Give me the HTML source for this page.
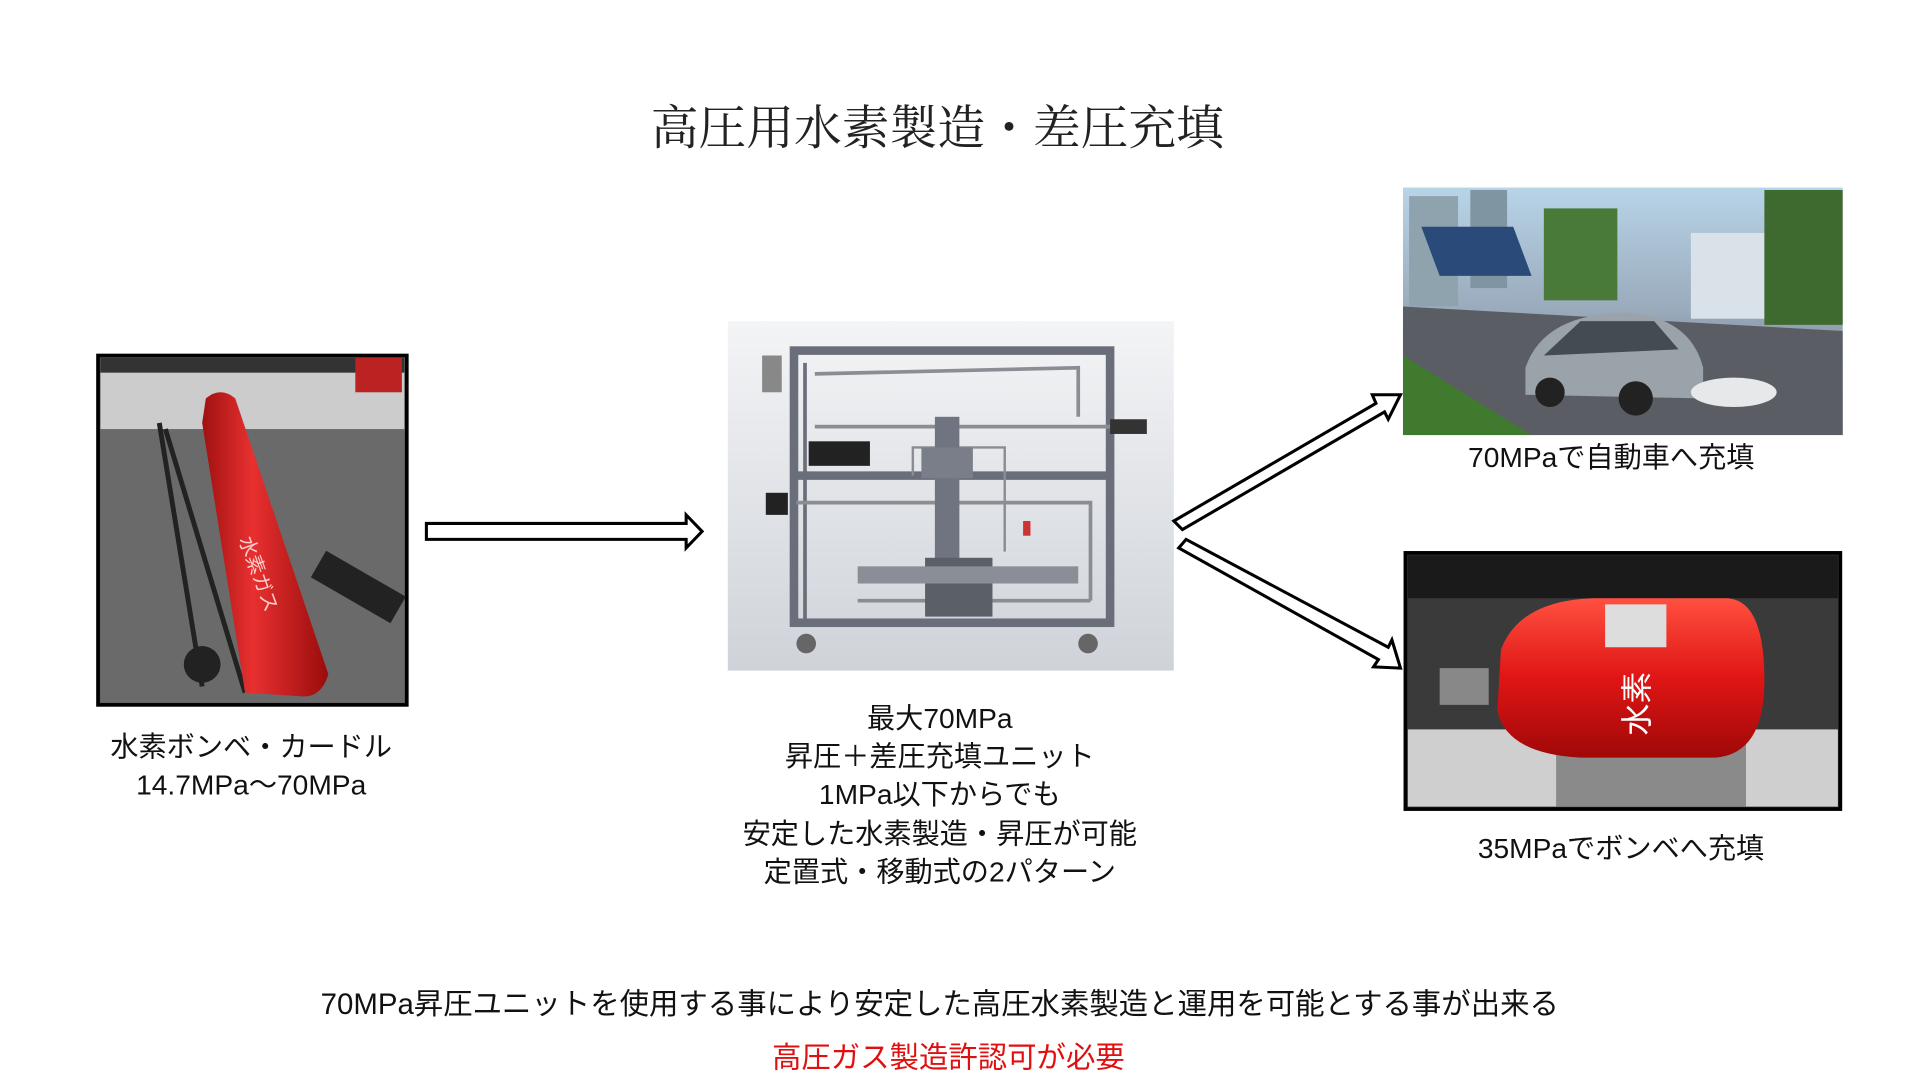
<!DOCTYPE html>
<html><head><meta charset="utf-8"><style>html,body{margin:0;padding:0;background:#fff;overflow:hidden}svg{display:block}</style></head>
<body>
<svg width="1920" height="1080" viewBox="0 0 1567 881" preserveAspectRatio="none" xmlns="http://www.w3.org/2000/svg">
<defs>
<linearGradient id="gbg" x1="0" y1="0" x2="0" y2="1"><stop offset="0" stop-color="#f3f4f6"/><stop offset="1" stop-color="#cfd3d9"/></linearGradient>
<linearGradient id="cyl" x1="0" y1="0" x2="1" y2="0"><stop offset="0" stop-color="#a01010"/><stop offset=".4" stop-color="#e83030"/><stop offset="1" stop-color="#9a0c0c"/></linearGradient>
<linearGradient id="tank" x1="0" y1="0" x2="0" y2="1"><stop offset="0" stop-color="#ff5040"/><stop offset=".5" stop-color="#e01515"/><stop offset="1" stop-color="#a00808"/></linearGradient>
<linearGradient id="sky" x1="0" y1="0" x2="0" y2="1"><stop offset="0" stop-color="#b8d4e8"/><stop offset=".5" stop-color="#9ab"/><stop offset="1" stop-color="#667"/></linearGradient>
<clipPath id="c1"><rect x="1145" y="153" width="359" height="202"/></clipPath>
</defs>
<rect width="1567" height="881" fill="#fff"/>
<text x="765" y="118" text-anchor="middle" font-family="'Liberation Serif','Noto Serif CJK SC',serif" font-size="39" fill="#222">高圧用水素製造・差圧充填</text>

<!-- left photo -->
<rect x="80" y="290" width="252" height="285" fill="#5c5c5c" stroke="#000" stroke-width="3"/>
<rect x="82" y="292" width="248" height="60" fill="#ccc"/>
<rect x="82" y="292" width="248" height="12" fill="#333"/>
<rect x="290" y="292" width="38" height="28" fill="#b22"/>
<rect x="82" y="350" width="248" height="223" fill="#6a6a6a"/>
<rect x="255" y="465" width="75" height="25" fill="#222" transform="rotate(30 290 478)"/>
<path d="M130 345 L165 560 M135 350 L200 565" stroke="#222" stroke-width="4" fill="none"/>
<circle cx="165" cy="542" r="15" fill="#222"/>
<path d="M168 325 Q180 315 192 325 L268 550 Q262 570 245 568 L200 565 L165 345 Z" fill="url(#cyl)"/>
<text x="195" y="440" font-family="'Noto Sans CJK JP',sans-serif" font-size="16" fill="#fcc" transform="rotate(70 195 440)">水素ガス</text>

<!-- left arrow -->
<path d="M348 427 L560 427 L560 420 L573 433.5 L560 447 L560 440 L348 440 Z" fill="#fff" stroke="#000" stroke-width="2.5"/>

<!-- center image -->
<rect x="594" y="262" width="364" height="285" fill="url(#gbg)"/>
<g fill="none" stroke="#6a6e7a">
<rect x="648" y="286" width="258" height="222" stroke-width="7"/>
<line x1="648" y1="388" x2="906" y2="388" stroke-width="7"/>
<line x1="657" y1="296" x2="657" y2="510" stroke-width="3"/>
<path d="M665 305 L880 300 L880 340 M665 348 L930 348 M650 410 L890 410 L890 490 M700 490 L890 490" stroke="#8a8e94" stroke-width="3"/>
<path d="M745 388 L745 365 L820 365 L820 450" stroke="#8a8e94" stroke-width="2"/>
</g>
<rect x="763" y="340" width="20" height="120" fill="#707480"/>
<rect x="752" y="365" width="42" height="25" fill="#7a7e88"/>
<rect x="755" y="455" width="55" height="48" fill="#5b5f68"/>
<rect x="700" y="462" width="180" height="14" fill="#8a8e96"/>
<rect x="660" y="360" width="50" height="20" fill="#222"/>
<rect x="625" y="402" width="18" height="18" fill="#222"/>
<rect x="622" y="290" width="16" height="30" fill="#888"/>
<rect x="906" y="342" width="30" height="12" fill="#333"/>
<rect x="835" y="425" width="6" height="12" fill="#c33"/>
<circle cx="658" cy="525" r="8" fill="#666"/><circle cx="888" cy="525" r="8" fill="#666"/>

<!-- diagonal arrows -->
<path d="M958 425 L1123 329 L1120 322 L1143 322 L1133 342 L1130 336 L965 432 Z" fill="#fff" stroke="#000" stroke-width="2.5"/>
<path d="M962 447 L968 440 L1133 528 L1136 522 L1143 545 L1121 544 L1125 538 Z" fill="#fff" stroke="#000" stroke-width="2.5"/>

<!-- top right photo -->
<g clip-path="url(#c1)">
<rect x="1145" y="153" width="359" height="202" fill="url(#sky)"/>
<rect x="1150" y="160" width="40" height="90" fill="#8fa3ae"/>
<rect x="1200" y="155" width="30" height="80" fill="#7f95a2"/>
<path d="M1160 185 L1235 185 L1250 225 L1175 225 Z" fill="#2a4a7a"/>
<rect x="1260" y="170" width="60" height="75" fill="#4a7a3a"/>
<rect x="1380" y="190" width="60" height="70" fill="#d8e2e8"/>
<rect x="1440" y="155" width="64" height="110" fill="#3e6a30"/>
<path d="M1145 250 L1504 270 L1504 355 L1145 355 Z" fill="#5a5e64"/>
<path d="M1145 290 L1250 355 L1145 355 Z" fill="#3f7a2f"/>
<path d="M1245 300 Q1260 255 1330 255 Q1380 260 1390 300 L1390 325 L1245 322 Z" fill="#9aa3aa"/>
<path d="M1260 290 L1290 262 L1350 262 L1370 285 Z" fill="#444b52"/>
<ellipse cx="1415" cy="320" rx="35" ry="12" fill="#e6e8ea"/>
<circle cx="1265" cy="320" r="12" fill="#222"/><circle cx="1335" cy="325" r="14" fill="#222"/>
</g>

<!-- bottom right photo -->
<rect x="1147" y="451" width="355" height="209" fill="#3a3a3a" stroke="#000" stroke-width="3"/>
<rect x="1149" y="453" width="351" height="35" fill="#1a1a1a"/>
<rect x="1149" y="595" width="351" height="63" fill="#cfcfcf"/>
<rect x="1270" y="600" width="155" height="58" fill="#8a8a8a"/>
<path d="M1225 530 Q1240 490 1300 488 L1410 488 Q1440 490 1440 555 Q1440 615 1400 618 L1290 618 Q1230 615 1222 580 Z" fill="url(#tank)"/>
<rect x="1175" y="545" width="40" height="30" fill="#888"/>
<rect x="1310" y="493" width="50" height="35" fill="#ddd"/>
<text x="1310" y="585" font-family="'Noto Sans CJK JP',sans-serif" font-size="26" fill="#fff" transform="rotate(-90 1335 575)">水素</text>

<g font-family="'Liberation Sans','Noto Sans CJK JP',sans-serif" font-size="23" fill="#111" text-anchor="middle">
<text x="1315" y="381">70MPaで自動車へ充填</text>
<text x="1323" y="700">35MPaでボンベへ充填</text>
<text x="205" y="617">水素ボンベ・カードル</text>
<text x="205" y="648">14.7MPa～70MPa</text>
<text x="767" y="594">最大70MPa</text>
<text x="767" y="625">昇圧＋差圧充填ユニット</text>
<text x="767" y="656">1MPa以下からでも</text>
<text x="767" y="688">安定した水素製造・昇圧が可能</text>
<text x="767" y="719">定置式・移動式の2パターン</text>
<text x="767" y="827" font-size="24">70MPa昇圧ユニットを使用する事により安定した高圧水素製造と運用を可能とする事が出来る</text>
<text x="774" y="871" fill="#e01010" font-size="24">高圧ガス製造許認可が必要</text>
</g>
</svg>
</body></html>
